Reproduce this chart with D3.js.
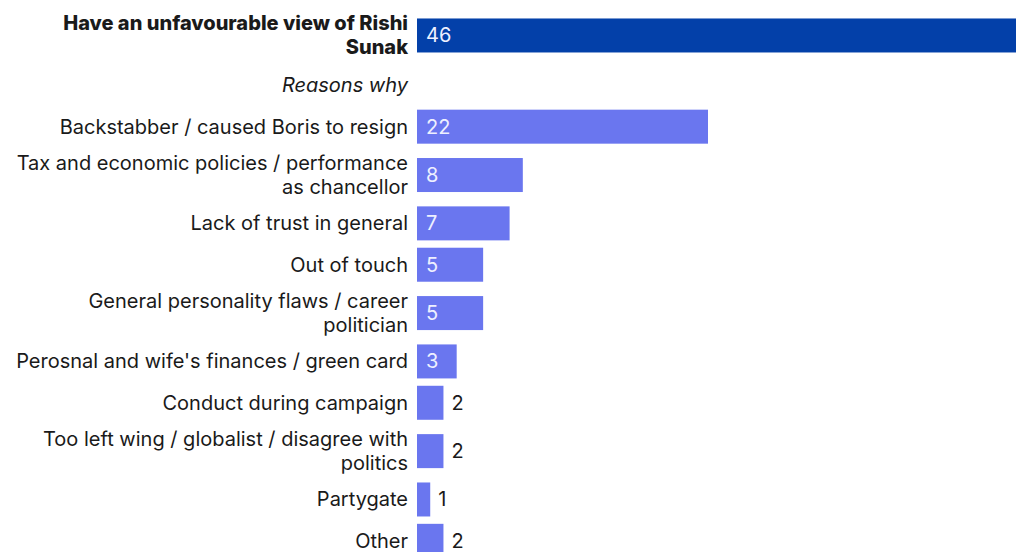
<!DOCTYPE html>
<html><head><meta charset="utf-8">
<script src="https://cdn.jsdelivr.net/npm/d3@7"></script>
<style>
html,body{margin:0;padding:0;background:#fff;}
svg{display:block;font-family:Inter,"Noto Sans",sans-serif;}
</style></head>
<body>
<svg id="chart" width="1016" height="552"></svg>
<script>
const categories = [
  ["Have an unfavourable view of Rishi", "Sunak"],
  ["Reasons why"],
  ["Backstabber / caused Boris to resign"],
  ["Tax and economic policies / performance", "as chancellor"],
  ["Lack of trust in general"],
  ["Out of touch"],
  ["General personality flaws / career", "politician"],
  ["Perosnal and wife's finances / green card"],
  ["Conduct during campaign"],
  ["Too left wing / globalist / disagree with", "politics"],
  ["Partygate"],
  ["Other"]
];
const values = [46, null, 22, 8, 7, 5, 5, 3, 2, 2, 1, 2];
const rowKinds = ["total", "header", "reason", "reason", "reason", "reason", "reason", "reason", "reason", "reason", "reason", "reason"];

const svg = d3.select("#chart");
const x0 = 417;
const x = d3.scaleLinear().domain([0, 22]).range([x0, 708]);

// row layout from label line counts
const rowH = categories.map((c, i) => (c.length > 1 ? 55.35 : 41.35) + (i === 0 ? 3 : 0));
const centers = [];
let acc = 6.3;
rowH.forEach(h => { centers.push(acc + h / 2); acc += h; });
const barH = 34;
const lineH = 24;

const rows = categories.map((c, i) => ({lines: c, value: values[i], kind: rowKinds[i], cy: centers[i]}));

const g = svg.selectAll("g.row").data(rows).join("g").attr("class", "row");

g.filter(d => d.value != null).append("rect")
  .attr("x", x0)
  .attr("y", d => d.cy - barH / 2)
  .attr("width", d => x(d.value) - x0)
  .attr("height", barH)
  .attr("fill", d => d.kind === "total" ? "#0340a9" : "#6a76ef");

g.append("text")
  .attr("text-anchor", "end")
  .attr("font-size", 20)
  .attr("fill", "#1a1a1a")
  .attr("font-weight", d => d.kind === "total" ? 800 : 400)
  .attr("font-style", d => d.kind === "header" ? "italic" : "normal")
  .each(function(d) {
    const t = d3.select(this);
    const n = d.lines.length;
    d.lines.forEach((ln, k) => {
      t.append("tspan")
        .attr("x", 408)
        .attr("y", d.cy + (k - (n - 1) / 2) * lineH)
        .attr("dy", "0.35em")
        .text(ln);
    });
  });

g.filter(d => d.value != null).append("text")
  .attr("font-size", 20)
  .attr("dy", "0.35em")
  .attr("y", d => d.cy)
  .attr("x", d => (x(d.value) - x0) > 30 ? x0 + 9 : x(d.value) + 8)
  .attr("fill", d => (x(d.value) - x0) > 30 ? "#eef0ff" : "#1a1a1a")
  .text(d => d.value);
</script>
</body></html>
